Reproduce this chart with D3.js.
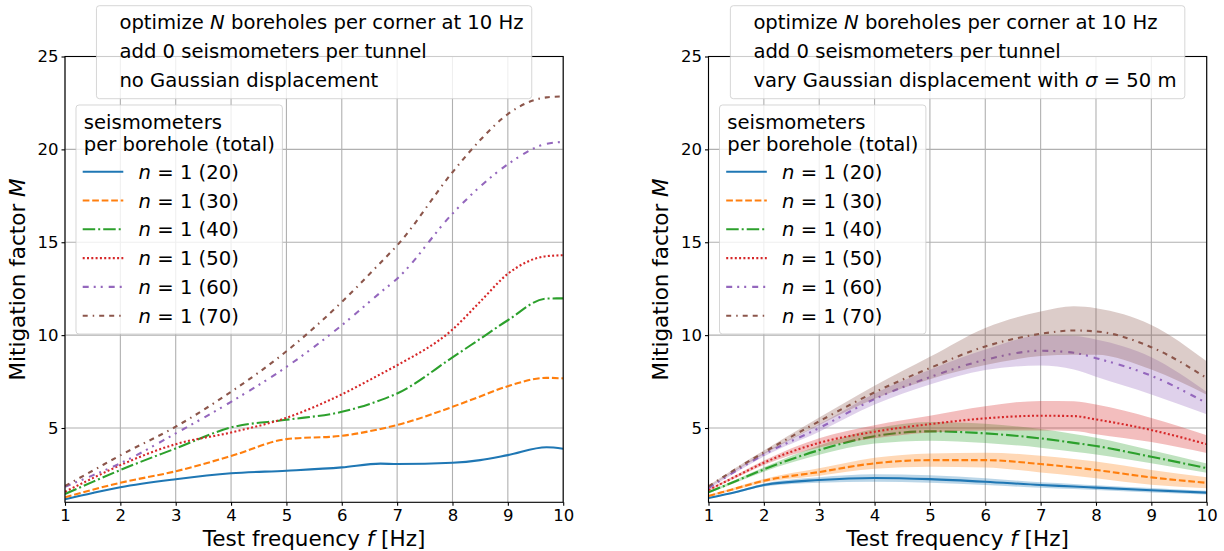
<!DOCTYPE html>
<html>
<head>
<meta charset="utf-8">
<script src="https://cdn.jsdelivr.net/npm/d3@7"></script>
<style>
  body { margin: 0; background: #fff; }
  svg { font-family: "DejaVu Sans", sans-serif; }
</style>
</head>
<body>
<script>
// ---- data ----
var seriesTotals = ["(20)", "(30)", "(40)", "(50)", "(60)", "(70)"];
var xTicks = [1, 2, 3, 4, 5, 6, 7, 8, 9, 10];
var yTicks = [5, 10, 15, 20, 25];

// left panel: no Gaussian displacement
var freqLeft = [1, 1.5, 2, 3, 4, 5, 6, 6.7, 7, 8, 8.5, 9, 9.7, 10];
var leftN20 = [1.16, 1.5, 1.81, 2.24, 2.56, 2.70, 2.88, 3.08, 3.06, 3.13, 3.27, 3.54, 3.96, 3.88];
var leftN30 = [1.27, 1.68, 2.05, 2.67, 3.49, 4.40, 4.58, 4.95, 5.16, 6.14, 6.7, 7.25, 7.70, 7.67];
var leftN40 = [1.45, 2.1, 2.74, 3.90, 5.03, 5.44, 5.87, 6.5, 6.86, 8.80, 9.8, 10.80, 11.97, 11.98];
var leftN50 = [1.57, 2.3, 3.0, 4.13, 4.76, 5.55, 6.81, 7.9, 8.38, 10.3, 11.8, 13.3, 14.25, 14.3];
var leftN60 = [1.84, 2.45, 3.10, 4.71, 6.41, 8.29, 10.53, 12.3, 13.04, 16.54, 18.0, 19.2, 20.3, 20.4];
var leftN70 = [1.88, 2.7, 3.53, 5.07, 6.95, 9.13, 11.78, 13.9, 14.83, 18.77, 20.5, 21.9, 22.8, 22.85];

// right panel: Gaussian displacement, sigma = 50 m (mean and band)
var freqRight = [1, 1.5, 2, 3, 4, 5, 6, 7, 7.6, 8, 9, 10];
var rightN20 = [1.23, 1.55, 1.93, 2.20, 2.31, 2.25, 2.11, 1.93, 1.85, 1.79, 1.65, 1.52];
var rightN30 = [1.34, 1.75, 2.16, 2.63, 3.10, 3.27, 3.27, 3.06, 2.88, 2.74, 2.34, 2.05];
var rightN40 = [1.54, 2.15, 2.77, 3.81, 4.56, 4.82, 4.71, 4.44, 4.20, 4.03, 3.45, 2.84];
var rightN50 = [1.66, 2.4, 3.13, 4.20, 4.80, 5.21, 5.52, 5.66, 5.64, 5.46, 4.89, 4.13];
var rightN60 = [1.77, 2.7, 3.57, 5.0, 6.56, 7.74, 8.67, 9.16, 9.05, 8.76, 7.81, 6.34];
var rightN70 = [1.86, 2.8, 3.69, 5.36, 6.92, 8.23, 9.39, 10.07, 10.25, 10.2, 9.35, 7.69];

var rightN20Low  = [1.20, 1.50, 1.85, 2.05, 2.11, 2.05, 1.93, 1.78, 1.71, 1.66, 1.53, 1.42];
var rightN20High = [1.26, 1.60, 2.01, 2.35, 2.51, 2.45, 2.29, 2.08, 1.99, 1.92, 1.77, 1.62];
var rightN30Low  = [1.29, 1.67, 2.06, 2.43, 2.80, 2.91, 2.87, 2.61, 2.43, 2.29, 1.94, 1.75];
var rightN30High = [1.39, 1.83, 2.26, 2.83, 3.40, 3.63, 3.67, 3.51, 3.33, 3.19, 2.74, 2.35];
var rightN40Low  = [1.49, 2.07, 2.65, 3.56, 4.16, 4.32, 4.19, 3.94, 3.72, 3.58, 3.10, 2.59];
var rightN40High = [1.59, 2.23, 2.89, 4.06, 4.96, 5.32, 5.23, 4.94, 4.68, 4.48, 3.80, 3.09];
var rightN50Low  = [1.61, 2.32, 3.01, 3.95, 4.45, 4.76, 4.87, 4.86, 4.84, 4.66, 4.24, 3.65];
var rightN50High = [1.71, 2.48, 3.25, 4.45, 5.15, 5.66, 6.17, 6.46, 6.44, 6.26, 5.54, 4.61];
var rightN60Low  = [1.72, 2.62, 3.47, 4.80, 6.26, 7.34, 8.12, 8.36, 8.15, 7.76, 6.81, 5.74];
var rightN60High = [1.82, 2.78, 3.67, 5.20, 6.86, 8.14, 9.22, 9.96, 9.95, 9.76, 8.81, 6.94];
var rightN70Low  = [1.81, 2.72, 3.59, 5.16, 6.57, 7.63, 8.39, 8.87, 8.95, 8.95, 8.15, 6.79];
var rightN70High = [1.91, 2.88, 3.79, 5.56, 7.27, 8.83, 10.39, 11.27, 11.55, 11.45, 10.55, 8.59];

// ---- styles ----
var colors = ["#1f77b4", "#ff7f0e", "#2ca02c", "#d62728", "#9467bd", "#8c564b"];
var dashes = [null, "6.7,2.8", "12.5,3,2,3", "2,2.3", "6,5,2,5,2,6", "5,5,1.5,5,5,5"];

var W = 1224, H = 551;
var plotTop = 56.5, plotBottom = 502.3, plotW = 498.2;
var legendFont = "19.6px";

var svg = d3.select("body").append("svg")
    .attr("width", W)
    .attr("height", H);

// write text made of [string, italic] pieces
function richText(sel, parts) {
    parts.forEach(function (p) {
        sel.append("tspan")
            .attr("font-style", p[1] ? "italic" : "normal")
            .text(p[0]);
    });
    return sel;
}

function nLabel(total) {
    return [["n", true], [" = ", false], ["1 " + total, false]];
}

var drawPanel = function (id, left, ylabelX, freq, lines, bands, infoLines) {
    var x = d3.scaleLinear().domain([1, 10]).range([left, left + plotW]);
    var y = d3.scaleLinear().domain([1, 25]).range([plotBottom, plotTop]);

    var g = svg.append("g");

    g.append("clipPath").attr("id", "clip" + id)
        .append("rect")
        .attr("x", left).attr("y", plotTop)
        .attr("width", plotW).attr("height", plotBottom - plotTop);

    // grid
    g.selectAll(".vgrid").data(xTicks).enter().append("line")
        .attr("x1", function (d) { return x(d); })
        .attr("x2", function (d) { return x(d); })
        .attr("y1", plotTop).attr("y2", plotBottom)
        .attr("stroke", "#b0b0b0").attr("stroke-width", 1.1);
    g.selectAll(".hgrid").data(yTicks).enter().append("line")
        .attr("y1", function (d) { return y(d); })
        .attr("y2", function (d) { return y(d); })
        .attr("x1", left).attr("x2", left + plotW)
        .attr("stroke", "#b0b0b0").attr("stroke-width", 1.1);

    var plot = g.append("g").attr("clip-path", "url(#clip" + id + ")");

    var line = d3.line()
        .x(function (d, i) { return x(freq[i]); })
        .y(function (d) { return y(d); })
        .curve(d3.curveMonotoneX);

    var area = d3.area()
        .x(function (d, i) { return x(freq[i]); })
        .y0(function (d) { return y(d[0]); })
        .y1(function (d) { return y(d[1]); })
        .curve(d3.curveMonotoneX);

    lines.forEach(function (vals, k) {
        if (bands) {
            var b = bands[k][0].map(function (v, i) { return [v, bands[k][1][i]]; });
            plot.append("path")
                .attr("d", area(b))
                .attr("fill", colors[k])
                .attr("fill-opacity", 0.3);
        }
        plot.append("path")
            .attr("d", line(vals))
            .attr("fill", "none")
            .attr("stroke", colors[k])
            .attr("stroke-width", 2.1)
            .attr("stroke-dasharray", dashes[k]);
    });

    // axes
    var xAxis = g.append("g")
        .attr("transform", "translate(0," + plotBottom + ")")
        .call(d3.axisBottom(x).tickValues(xTicks).tickSize(3.5).tickPadding(3.5).tickFormat(d3.format("d")));
    var yAxis = g.append("g")
        .attr("transform", "translate(" + left + ",0)")
        .call(d3.axisLeft(y).tickValues(yTicks).tickSize(3.5).tickPadding(3).tickFormat(d3.format("d")));
    [xAxis, yAxis].forEach(function (a) {
        a.attr("font-size", null).attr("font-family", null);
        a.select(".domain").remove();
        a.selectAll("text").attr("font-size", "16.5px").attr("fill", "#000");
        a.selectAll("line").attr("stroke", "#000").attr("stroke-width", 1.1);
    });

    g.append("rect")
        .attr("x", left).attr("y", plotTop)
        .attr("width", plotW).attr("height", plotBottom - plotTop)
        .attr("fill", "none").attr("stroke", "#000").attr("stroke-width", 1.1);

    // axis labels
    richText(g.append("text")
        .attr("x", left + plotW / 2).attr("y", 546)
        .attr("text-anchor", "middle")
        .attr("font-size", "21.5px"),
        [["Test frequency ", false], ["f", true], [" [Hz]", false]]);

    richText(g.append("text")
        .attr("transform", "translate(" + ylabelX + "," + ((plotTop + plotBottom) / 2) + ") rotate(-90)")
        .attr("text-anchor", "middle")
        .attr("font-size", "21.5px"),
        [["Mitigation factor ", false], ["M", true]]);

    // info legend (text only), upper centre
    var info = g.append("g");
    var infoBox = info.append("rect")
        .attr("y", 5.7).attr("height", 93)
        .attr("rx", 3).attr("ry", 3)
        .attr("fill", "#fff").attr("fill-opacity", 0.8)
        .attr("stroke", "#cccccc").attr("stroke-opacity", 0.8);
    var maxW = 0;
    var infoTexts = infoLines.map(function (parts, i) {
        var t = richText(info.append("text")
            .attr("y", 28.5 + i * 29)
            .attr("font-size", legendFont), parts);
        maxW = Math.max(maxW, t.node().getComputedTextLength());
        return t;
    });
    var boxW = maxW + 31.2;
    var boxX = left + plotW / 2 - boxW / 2;
    infoBox.attr("x", boxX).attr("width", boxW);
    infoTexts.forEach(function (t) { t.attr("x", boxX + 23); });

    // series legend
    var lx = left + 11;
    var leg = g.append("g");
    leg.append("rect")
        .attr("x", lx).attr("y", 105)
        .attr("width", 206.4).attr("height", 229)
        .attr("rx", 3).attr("ry", 3)
        .attr("fill", "#fff").attr("fill-opacity", 0.8)
        .attr("stroke", "#cccccc").attr("stroke-opacity", 0.8);
    leg.append("text").attr("x", lx + 7.8).attr("y", 128.5)
        .attr("font-size", legendFont).text("seismometers");
    leg.append("text").attr("x", lx + 7.8).attr("y", 150.5)
        .attr("font-size", legendFont).text("per borehole (total)");
    seriesTotals.forEach(function (s, k) {
        var cy = 171.7 + k * 28.8;
        leg.append("line")
            .attr("x1", lx + 6.7).attr("x2", lx + 47.3)
            .attr("y1", cy).attr("y2", cy)
            .attr("stroke", colors[k]).attr("stroke-width", 2.1)
            .attr("stroke-dasharray", dashes[k]);
        richText(leg.append("text")
            .attr("x", lx + 62.6).attr("y", cy + 7)
            .attr("font-size", legendFont), nLabel(s));
    });
};

drawPanel("L", 65, 25, freqLeft,
    [leftN20, leftN30, leftN40, leftN50, leftN60, leftN70],
    null,
    [
        [["optimize ", false], ["N", true], [" boreholes per corner at 10 Hz", false]],
        [["add 0 seismometers per tunnel", false]],
        [["no Gaussian displacement", false]]
    ]);

drawPanel("R", 708.5, 668, freqRight,
    [rightN20, rightN30, rightN40, rightN50, rightN60, rightN70],
    [[rightN20Low, rightN20High], [rightN30Low, rightN30High], [rightN40Low, rightN40High],
     [rightN50Low, rightN50High], [rightN60Low, rightN60High], [rightN70Low, rightN70High]],
    [
        [["optimize ", false], ["N", true], [" boreholes per corner at 10 Hz", false]],
        [["add 0 seismometers per tunnel", false]],
        [["vary Gaussian displacement with ", false], ["σ", true], [" = ", false], ["50", false], [" m", false]]
    ]);
</script>
</body>
</html>
